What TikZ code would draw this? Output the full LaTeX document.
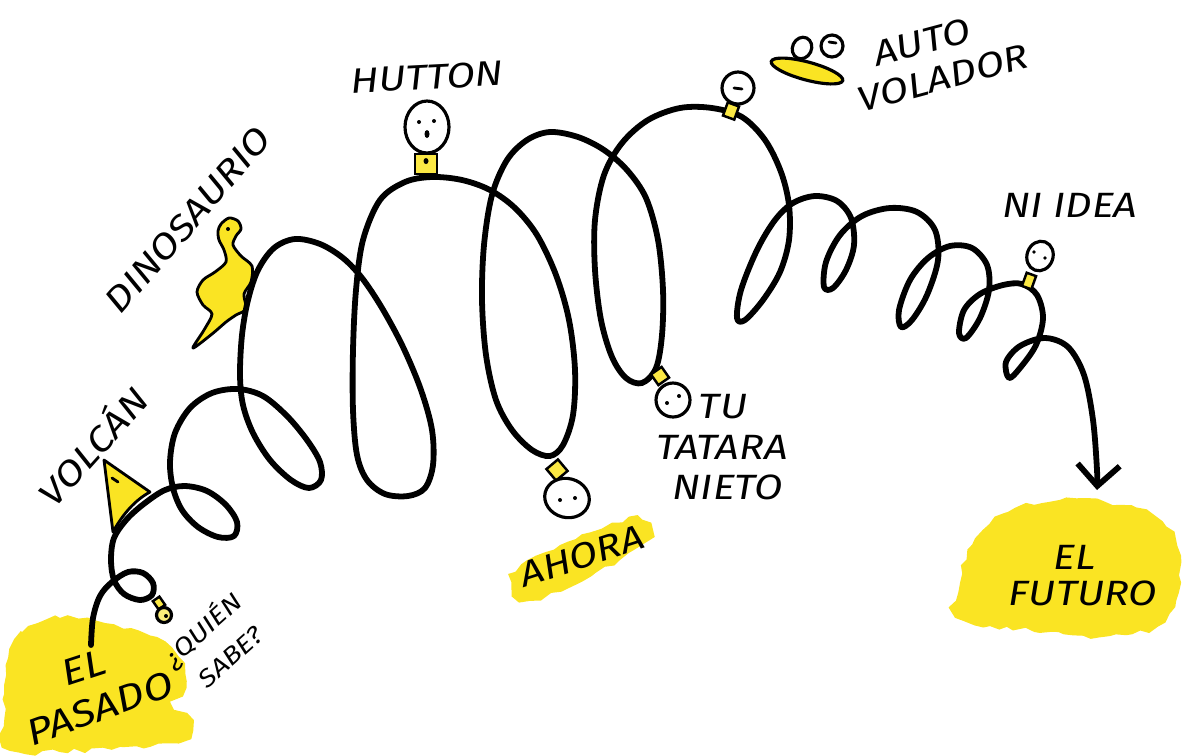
\documentclass[tikz,border=0pt]{standalone}
\usepackage{fontspec}
\setmainfont{Fira Sans}[FakeStretch=1.18]
\usetikzlibrary{arrows.meta,shapes.geometric,decorations.pathmorphing}

\definecolor{marker}{RGB}{250,228,35}

\begin{document}
\begin{tikzpicture}[
    x=0.02cm, y=-0.02cm,
    coil/.style={line width=3.3pt, line cap=round, line join=round},
    ink/.style={line width=1.6pt, line cap=round, line join=round},
    handtext/.style={font=\fontsize{20}{23}\selectfont\itshape, inner sep=0pt},
    smalltext/.style={font=\fontsize{14}{16}\selectfont\itshape, inner sep=0pt},
    blob/.style={fill=marker, decorate, decoration={random steps, segment length=5pt, amplitude=1.5pt}},
    head/.style={draw, line width=1.8pt, fill=white, inner sep=0pt},
    neck/.style={draw, line width=1.4pt, fill=marker!85!white, inner sep=0pt}
]
\pgfmathsetseed{7}
\useasboundingbox (0,0) rectangle (1182,755);

% highlighter patches
\fill[blob] plot[smooth cycle, tension=0.7] coordinates {(6,665) (22,632) (60,618) (105,623) (150,636) (178,657) (186,688) (172,703) (192,722) (178,742) (120,747) (60,752) (10,750) (4,718)};
\fill[blob] plot[smooth cycle, tension=0.7] coordinates {(516,572) (560,545) (612,523) (642,520) (648,538) (620,560) (575,585) (530,600) (515,592)};
\fill[blob] plot[smooth cycle, tension=0.7] coordinates {(958,592) (972,545) (1008,512) (1060,500) (1120,505) (1162,522) (1180,556) (1176,600) (1158,626) (1110,636) (1050,632) (990,626) (956,616)};

% volcano and dinosaur behind the coil
\draw[ink, fill=marker] (104,460) -- (113,532) .. controls (122,515) and (135,500) .. (150,492) -- cycle;
\draw[ink] (112,478) -- (118,482);
\draw[ink, fill=marker] plot[smooth cycle, tension=0.5] coordinates {(221,224) (229,218) (238,221) (241,229) (236,236) (233,245) (241,256) (252,266) (251,282) (244,294) (246,309) (236,315) (226,322) (212,334) (193,348) (204,330) (212,314) (203,305) (197,292) (203,280) (215,272) (226,262) (224,250) (219,240) (218,231)};
\fill (228,229) circle (2);

% the coil, from the past to the future
\draw[coil, -{Straight Barb[length=12pt, width=24pt]}] plot[smooth, tension=0.55] coordinates {
  (91,645) (93,618) (100,596) (112,582) (128,572) (143,573) (153,583) (152,595) (140,600) (124,594) (114,580)
  (111,560) (114,538) (127,519) (145,503) (165,490)
  (185,486) (207,491) (226,505) (237,522) (234,536) (218,537) (198,527) (182,510) (173,488)
  (170,462) (175,433) (190,408) (212,393) (238,389) (263,396) (287,416) (307,440) (320,462) (321,480) (309,488) (291,480) (270,460) (253,433) (243,405)
  (240,375) (242,335) (248,300) (258,270) (274,248) (295,239) (320,244) (343,258) (362,278) (382,308) (403,347) (421,390) (432,430) (433,465) (425,488) (408,496) (385,494) (367,480) (357,455)
  (353,410) (353,350) (356,290) (363,240) (380,200) (405,182) (432,177) (462,180) (490,190) (515,208) (537,235) (556,275) (569,320) (575,370) (573,415) (563,445) (550,456) (532,450) (512,430) (496,400)
  (486,355) (482,300) (484,245) (492,195) (507,160) (527,140) (550,132) (578,137) (604,150) (627,170) (646,198) (658,240) (663,290) (662,335) (656,368) (642,383) (626,378) (612,357)
  (601,320) (595,270) (595,220) (604,175) (622,143) (648,120) (680,108) (712,108) (742,117) (765,140) (781,172) (789,205) (789,240) (780,272) (763,300) (745,320) (737,318)
  (741,290) (757,250) (775,220) (793,203) (815,196) (837,201) (851,218) (854,245) (846,270) (833,288) (824,287)
  (826,262) (840,235) (862,216) (890,208) (917,212) (935,230) (938,260) (927,295) (912,320) (901,327)
  (899,310) (910,280) (928,258) (950,246) (972,248) (987,265) (989,290) (980,318) (966,338) (959,333)
  (964,310) (980,294) (1003,285) (1022,284) (1037,295) (1043,318) (1036,345) (1020,368) (1009,378)
  (1006,362) (1020,346) (1045,338) (1068,347) (1084,375) (1093,420) (1097,470) (1097,490)};

% little people along the coil
\node[neck, minimum width=0.16cm, minimum height=0.2cm, rotate=35] (quienneck) at (159,603) {};
\node[head, circle, fill=marker!60!white, minimum size=0.3cm] (quienhead) at (164,615) {};
\fill (166,616) circle (2);

\node[neck, minimum width=0.44cm, minimum height=0.4cm] (huttonneck) at (426,164) {};
\fill (426,161) ellipse (2.5 and 3);
\node[head, ellipse, minimum width=0.88cm, minimum height=1.04cm] (huttonhead) at (427,127) {};
\fill (419,122) circle (2) (434,121) circle (2);
\fill (427,134) ellipse (2.5 and 4);

\node[neck, minimum size=0.3cm, rotate=40] (ahoraneck) at (557,470) {};
\node[head, ellipse, minimum width=0.9cm, minimum height=0.78cm, rotate=-15] (ahorahead) at (567,498) {};
\fill (560,500) circle (2) (575,498) circle (2);

\node[neck, minimum size=0.26cm, rotate=35] (nietoneck) at (660,376) {};
\node[head, circle, minimum size=0.68cm] (nietohead) at (673,400) {};
\fill (667,403) circle (2) (679,396) circle (2);

\node[neck, minimum width=0.24cm, minimum height=0.28cm, rotate=-20] (voladorneck) at (731,111) {};
\node[head, circle, minimum size=0.64cm] (voladorhead) at (738,88) {};
\draw[ink] (734,88) -- (742,89);

\node[neck, minimum width=0.2cm, minimum height=0.28cm, rotate=-20] (idealneck) at (1029,281) {};
\node[head, ellipse, minimum width=0.52cm, minimum height=0.6cm, rotate=-20] (ideahead) at (1040,256) {};
\fill (1034,252) circle (1.8) (1045,258) circle (1.8);

% flying car
\node[head, ellipse, minimum width=0.38cm, minimum height=0.44cm, rotate=-25] (driver) at (802,48) {};
\node[head, circle, minimum size=0.44cm] (passenger) at (832,46) {};
\draw[ink] (829,42) -- (836,43);
\node[draw, ellipse, line width=1.8pt, fill=marker, minimum width=1.48cm, minimum height=0.36cm, rotate=-15] (car) at (807,71) {};

% captions
\node[handtext, rotate=3] (hutton) at (427,77) {HUTTON};
\node[handtext, rotate=49] (dino) at (188,220) {DINOSAURIO};
\node[handtext, rotate=48] (volcan) at (91,445) {VOLCÁN};
\node[handtext, font=\fontsize{21}{24}\selectfont\itshape, rotate=18] (pasado1) at (84,668) {EL};
\node[handtext, font=\fontsize{21}{24}\selectfont\itshape, rotate=20] (pasado2) at (100,708) {PASADO};
\node[smalltext, rotate=42] (quien1) at (203,630) {¿QUIÉN};
\node[smalltext, rotate=42] (quien2) at (231,657) {SABE?};
\node[handtext, rotate=18] (ahora) at (582,556) {AHORA};
\node[handtext] (nieto1) at (723,407) {TU};
\node[handtext] (nieto2) at (722,447) {TATARA};
\node[handtext] (nieto3) at (728,487) {NIETO};
\node[handtext, rotate=15] (auto1) at (922,42) {AUTO};
\node[handtext, rotate=15] (auto2) at (943,78) {VOLADOR};
\node[handtext] (idea) at (1070,205) {NI IDEA};
\node[handtext] (futuro1) at (1075,557) {EL};
\node[handtext] (futuro2) at (1083,593) {FUTURO};
\end{tikzpicture}
\end{document}
